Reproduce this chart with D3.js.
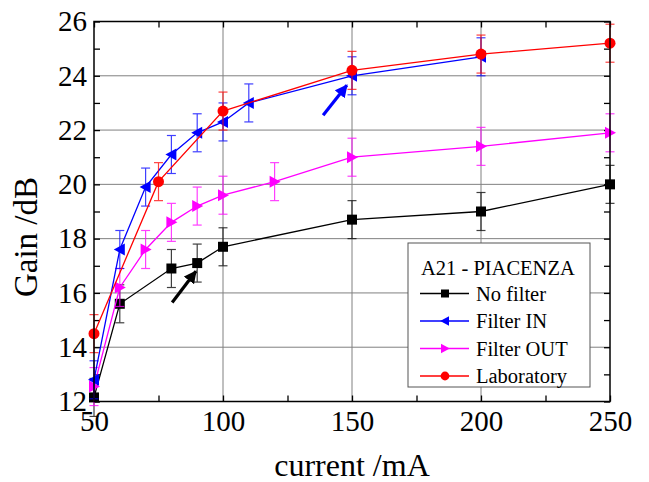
<!DOCTYPE html>
<html><head><meta charset="utf-8">
<script src="https://cdn.jsdelivr.net/npm/d3@7"></script>
<style>body{margin:0;background:#fff}</style>
</head><body>
<svg id="c" width="649" height="482"></svg>
<script>
const xTicks = [50, 100, 150, 200, 250];
const yTicks = [12, 14, 16, 18, 20, 22, 24, 26];
const noFilterX = [50, 60, 80, 90, 100, 150, 200, 250];
const noFilterY = [12.15, 15.6, 16.9, 17.1, 17.7, 18.7, 19.0, 20.0];
const filterInX = [50, 60, 70, 80, 90, 100, 110, 150, 200];
const filterInY = [12.8, 17.6, 19.9, 21.1, 21.9, 22.3, 23.0, 24.0, 24.7];
const filterOutX = [50, 60, 70, 80, 90, 100, 120, 150, 200, 250];
const filterOutY = [12.55, 16.2, 17.6, 18.6, 19.2, 19.6, 20.1, 21.0, 21.4, 21.9];
const labX = [50, 75, 100, 150, 200, 250];
const labY = [14.5, 20.1, 22.7, 24.2, 24.8, 25.2];
const errAmp = 0.7;
const seriesNames = ["No filter", "Filter IN", "Filter OUT", "Laboratory"];
const seriesColors = ["#000000", "#0000ff", "#ff00ff", "#ff0000"];
const legendTitle = "A21 - PIACENZA";
const arrows = [
  {x0: 80.3, y0: 15.65, x1: 89.5, y1: 16.8, color: "#000000"},
  {x0: 138.8, y0: 22.55, x1: 148, y1: 23.65, color: "#0000ff"}
];

const svg = d3.select("#c");
const L = 94, R = 610, T = 21.5, B = 401.5;
const x = d3.scaleLinear().domain([50, 250]).range([L, R]);
const y = d3.scaleLinear().domain([12, 26]).range([B, T]);
const FONT = "Liberation Serif";

// grid
const g = svg.append("g");
g.selectAll(".gx").data(xTicks.slice(1, -1)).enter().append("line")
  .attr("x1", d => x(d)).attr("x2", d => x(d)).attr("y1", T).attr("y2", B)
  .attr("stroke", "#808080").attr("stroke-width", 1);
g.selectAll(".gy").data(yTicks.slice(1, -1)).enter().append("line")
  .attr("y1", d => y(d)).attr("y2", d => y(d)).attr("x1", L).attr("x2", R)
  .attr("stroke", "#808080").attr("stroke-width", 1);

// inward ticks
const minorX = d3.range(50, 251, 25);
const minorY = d3.range(12, 26.1, 1);
function tickAxis(axis, scale, vals, len, pos) {
  const a = svg.append("g").attr("transform", pos);
  a.call(axis(scale).tickValues(vals).tickSize(len).tickFormat(""));
  a.select(".domain").remove();
  a.selectAll("line").attr("stroke", "#000").attr("stroke-width", 1.3);
}
tickAxis(d3.axisTop, x, minorX, 6, `translate(0,${B})`);
tickAxis(d3.axisBottom, x, minorX, 6, `translate(0,${T})`);
tickAxis(d3.axisRight, y, minorY, 6, `translate(${L},0)`);
tickAxis(d3.axisLeft, y, minorY, 6, `translate(${R},0)`);

// tick labels
const xa = svg.append("g").attr("transform", `translate(0,${B})`)
  .call(d3.axisBottom(x).tickValues(xTicks).tickSize(0).tickPadding(9));
xa.attr("font-family", FONT).attr("font-size", 29);
xa.select(".domain").remove();
xa.selectAll("text").attr("font-family", FONT).attr("font-size", 29).attr("fill", "#000");
const ya = svg.append("g").attr("transform", `translate(${L},0)`)
  .call(d3.axisLeft(y).tickValues(yTicks).tickSize(0).tickPadding(7));
ya.attr("font-family", FONT).attr("font-size", 29);
ya.select(".domain").remove();
ya.selectAll("text").attr("font-family", FONT).attr("font-size", 29).attr("fill", "#000");

svg.append("text").attr("x", 352).attr("y", 476).attr("text-anchor", "middle")
  .attr("font-family", FONT).attr("font-size", 32).text("current /mA");
svg.append("text").attr("transform", "translate(37,237) rotate(-90)").attr("text-anchor", "middle")
  .attr("font-family", FONT).attr("font-size", 33).text("Gain /dB");

// series
const series = [
  {xs: noFilterX, ys: noFilterY},
  {xs: filterInX, ys: filterInY},
  {xs: filterOutX, ys: filterOutY},
  {xs: labX, ys: labY}
];
const plot = svg.append("g");
const sym = [
  (sel) => sel.append("rect").attr("x", -5).attr("y", -5).attr("width", 10).attr("height", 10),
  (sel) => sel.append("path").attr("d", "M-6,0L5,-6L5,6Z"),
  (sel) => sel.append("path").attr("d", "M6,0L-5,-6L-5,6Z"),
  (sel) => sel.append("circle").attr("r", 5.5)
];
const order = [0, 2, 1, 3];
order.forEach(i => {
  const s = series[i];
  const pts = s.xs.map((v, k) => [v, s.ys[k]]);
  const c = seriesColors[i];
  const eg = plot.append("g").attr("stroke", c).attr("stroke-width", 1.2).attr("opacity", 0.75);
  pts.forEach(p => {
    eg.append("line").attr("x1", x(p[0])).attr("x2", x(p[0])).attr("y1", y(p[1] - errAmp)).attr("y2", y(p[1] + errAmp));
    [p[1] - errAmp, p[1] + errAmp].forEach(v => eg.append("line")
      .attr("x1", x(p[0]) - 4.5).attr("x2", x(p[0]) + 4.5).attr("y1", y(v)).attr("y2", y(v)));
  });
  plot.append("path").datum(pts).attr("fill", "none").attr("stroke", c).attr("stroke-width", 1.3)
    .attr("d", d3.line().x(d => x(d[0])).y(d => y(d[1])));
  pts.forEach(p => {
    const m = plot.append("g").attr("transform", `translate(${x(p[0])},${y(p[1])})`).attr("fill", c);
    sym[i](m);
  });
});

// arrows
const defs = svg.append("defs");
arrows.forEach((a, k) => {
  defs.append("marker").attr("id", "ah" + k).attr("viewBox", "0 0 10 10").attr("refX", 9).attr("refY", 5)
    .attr("markerWidth", 4).attr("markerHeight", 4).attr("orient", "auto").attr("markerUnits", "strokeWidth")
    .append("path").attr("d", "M0,0L10,5L0,10Z").attr("fill", a.color);
  svg.append("line").attr("x1", x(a.x0)).attr("y1", y(a.y0)).attr("x2", x(a.x1)).attr("y2", y(a.y1))
    .attr("stroke", a.color).attr("stroke-width", 3.2).attr("marker-end", `url(#ah${k})`);
});

// frame
svg.append("rect").attr("x", L).attr("y", T).attr("width", R - L).attr("height", B - T)
  .attr("fill", "none").attr("stroke", "#000").attr("stroke-width", 1.5);

// legend
const lg = svg.append("g");
lg.append("rect").attr("x", 408).attr("y", 243).attr("width", 182).attr("height", 144)
  .attr("fill", "#fff").attr("stroke", "#555").attr("stroke-width", 1);
lg.append("text").attr("x", 421).attr("y", 275).attr("font-family", FONT).attr("font-size", 20.5).text(legendTitle);
seriesNames.forEach((n, i) => {
  const yy = 293.5 + i * 27.5;
  lg.append("line").attr("x1", 420).attr("x2", 469).attr("y1", yy).attr("y2", yy)
    .attr("stroke", seriesColors[i]).attr("stroke-width", 1.3);
  const m = lg.append("g").attr("transform", `translate(445,${yy}) scale(0.8)`).attr("fill", seriesColors[i]);
  sym[i](m);
  lg.append("text").attr("x", 476).attr("y", yy + 7).attr("font-family", FONT).attr("font-size", 20.5).text(n);
});
</script>
</body></html>
